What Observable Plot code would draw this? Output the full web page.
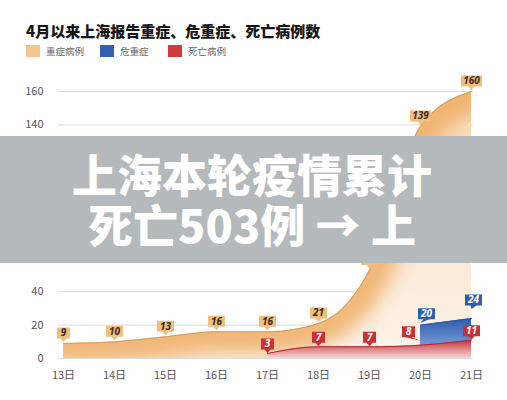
<!DOCTYPE html>
<html>
<head>
<meta charset="utf-8">
<script src="https://cdn.jsdelivr.net/npm/d3@7"></script>
<script src="https://cdn.jsdelivr.net/npm/@observablehq/plot@0.6"></script>
<style>
  body { margin: 0; background: #fff; font-family: "Noto Sans CJK SC", "Noto Sans", sans-serif; }
  #wrap { position: relative; width: 507px; height: 400px; overflow: hidden; background: #fff; }
  #title { position: absolute; left: 26px; top: 22px; font-size: 15px; font-weight: 900; color: #161616; line-height: 18px; white-space: nowrap; }
  .item { position: absolute; top: 45px; display: flex; align-items: center; font-size: 9.5px; color: #666; line-height: 12px; white-space: nowrap; }
  .sw { display: inline-block; width: 14px; height: 12px; margin-right: 6px; }
  #chart { position: absolute; left: 0; top: 62px; }
  #banner { position: absolute; left: 0; top: 136px; width: 507px; height: 127px; background: #b4b9bb; }
  #banner p { margin: 0; position: absolute; left: 252px; top: 13px; transform: translateX(-50%); white-space: nowrap; color: #fff;
              font-weight: 900; font-size: 45px; line-height: 50px; text-align: center; }
</style>
</head>
<body>
<div id="wrap">
  <div id="title">4月以来上海报告重症、危重症、死亡病例数</div>
  <div class="item" style="left:26px"><span class="sw" style="background:#f4c58e"></span>重症病例</div>
  <div class="item" style="left:100px"><span class="sw" style="background:#2f60b3"></span>危重症</div>
  <div class="item" style="left:168px"><span class="sw" style="background:#d2393c"></span>死亡病例</div>
  <div id="chart"></div>
  <div id="banner"><p>上海本轮疫情累计<br>死亡503例 → 上</p></div>
</div>
<script>
// ---- data ----
const days = ["13日", "14日", "15日", "16日", "17日", "18日", "19日", "20日", "21日"];
const severe = [9, 10, 13, 16, 16, 21, 53, 139, 160];
const critical = [null, null, null, null, null, null, null, 20, 24];
const deaths = [null, null, null, null, 3, 7, 7, 8, 11];
const yTicks = [0, 20, 40, 60, 80, 100, 120, 140, 160];

const rows = days.map((day, i) => ({day, severe: severe[i], critical: critical[i], deaths: deaths[i]}));
const critRows = rows.filter(d => d.critical != null);
const deathRows = rows.filter(d => d.deaths != null);

// callout box symbol: box of w x h whose bottom sits B px above the point, shifted ox px
function callout(w, h, B, ox) {
  return {
    draw(ctx) {
      const yb = -B, yt = -B - h, tip = -B + 3.5;
      ctx.moveTo(0, tip);
      ctx.lineTo(ox - 3, yb);
      ctx.lineTo(ox - w / 2, yb);
      ctx.lineTo(ox - w / 2, yt);
      ctx.lineTo(ox + w / 2, yt);
      ctx.lineTo(ox + w / 2, yb);
      ctx.lineTo(ox + 3, yb);
      ctx.closePath();
    }
  };
}

function labelMarks(data, field, bg, fg, B = 5, ox = 0) {
  const marks = [];
  const widths = {1: 13, 2: 17, 3: 21};
  for (const n of [1, 2, 3]) {
    const sub = data.filter(d => String(d[field]).length === n);
    if (!sub.length) continue;
    marks.push(Plot.dot(sub, {x: "day", y: field, symbol: callout(widths[n], 11, B, ox), fill: bg, stroke: "none", r: 3}));
  }
  marks.push(Plot.text(data, {
    x: "day", y: field, text: d => String(d[field]),
    dx: ox, dy: -(B + 5.5), fill: fg, fontSize: 10, fontWeight: 700, fontStyle: "italic",
    fontFamily: "'Open Sans', 'Noto Sans', sans-serif"
  }));
  return marks;
}

const chart = Plot.plot({
  width: 507,
  height: 338,
  marginTop: 29,
  marginBottom: 42,
  marginLeft: 58,
  marginRight: 34,
  style: {fontFamily: "'Noto Sans CJK SC', 'Noto Sans', sans-serif", color: "#555", background: "transparent"},
  x: {type: "point", domain: days, range: [62, 471], padding: 0},
  y: {domain: [0, 160]},
  marks: [
    Plot.ruleY(yTicks, {stroke: "#dcdcdc", strokeWidth: 1}),
    Plot.axisY({ticks: yTicks, tickSize: 0, tickPadding: 15, fontSize: 11, label: null, fill: "#555"}),
    Plot.axisX({tickSize: 0, tickPadding: 13, fontSize: 11, label: null, fill: "#555"}),
    Plot.areaY(rows, {x: "day", y: "severe", curve: "monotone-x", fill: "url(#sevBase)", ariaDescription: "sev-area"}),
    Plot.line(rows, {x: "day", y: "severe", curve: "monotone-x", stroke: "#eeae66", strokeWidth: 44, strokeOpacity: 0.85, ariaDescription: "sev-glow"}),
    Plot.line(rows, {x: "day", y: "severe", curve: "monotone-x", stroke: "#d49c5f", strokeWidth: 1}),
    Plot.areaY(critRows, {x: "day", y: "critical", fill: "url(#critGrad)"}),
    Plot.line(critRows, {x: "day", y: "critical", stroke: "#2a55a3", strokeWidth: 1}),
    Plot.areaY(deathRows, {x: "day", y: "deaths", curve: "monotone-x", fill: "url(#deathGrad)"}),
    Plot.line(deathRows, {x: "day", y: "deaths", curve: "monotone-x", stroke: "#b3262e", strokeWidth: 1}),
    ...labelMarks(rows, "severe", "#f0bf7f", "#3d2710"),
    ...labelMarks(deathRows.filter(d => d.day !== "20日"), "deaths", "#c8303a", "#fff", 4),
    ...labelMarks(deathRows.filter(d => d.day === "20日"), "deaths", "#c8303a", "#fff", 8, -12),
    ...labelMarks(critRows.filter(d => d.day === "20日"), "critical", "#2e5fac", "#fff", 6, 6),
    ...labelMarks(critRows.filter(d => d.day === "21日"), "critical", "#2e5fac", "#fff", 13, 2)
  ]
});

// gradients and glow clipping
const ns = "http://www.w3.org/2000/svg";
const defs = document.createElementNS(ns, "defs");
function grad(id, stops) {
  const g = document.createElementNS(ns, "linearGradient");
  g.setAttribute("id", id);
  g.setAttribute("x1", "0"); g.setAttribute("y1", "0");
  g.setAttribute("x2", "0"); g.setAttribute("y2", "1");
  for (const [o, c] of stops) {
    const s = document.createElementNS(ns, "stop");
    s.setAttribute("offset", o); s.setAttribute("stop-color", c);
    g.appendChild(s);
  }
  defs.appendChild(g);
}
grad("sevBase", [["0", "#f8d8b3"], ["1", "#fdf3e9"]]);
grad("critGrad", [["0", "#2a5bb0"], ["1", "#9ab7e3"]]);
grad("deathGrad", [["0", "#c4303a"], ["1", "#f6d6d2"]]);
chart.insertBefore(defs, chart.firstChild);

const areaPath = chart.querySelector('g[aria-description="sev-area"] path');
const glow = chart.querySelector('g[aria-description="sev-glow"]');
if (areaPath && glow) {
  const cp = document.createElementNS(ns, "clipPath");
  cp.setAttribute("id", "sevClip");
  const p = document.createElementNS(ns, "path");
  p.setAttribute("d", areaPath.getAttribute("d"));
  cp.appendChild(p);
  defs.appendChild(cp);
  const wrapG = document.createElementNS(ns, "g");
  wrapG.setAttribute("clip-path", "url(#sevClip)");
  glow.parentNode.insertBefore(wrapG, glow);
  wrapG.appendChild(glow);
  glow.style.filter = "blur(9px)";
}

document.getElementById("chart").appendChild(chart);
</script>
</body>
</html>
